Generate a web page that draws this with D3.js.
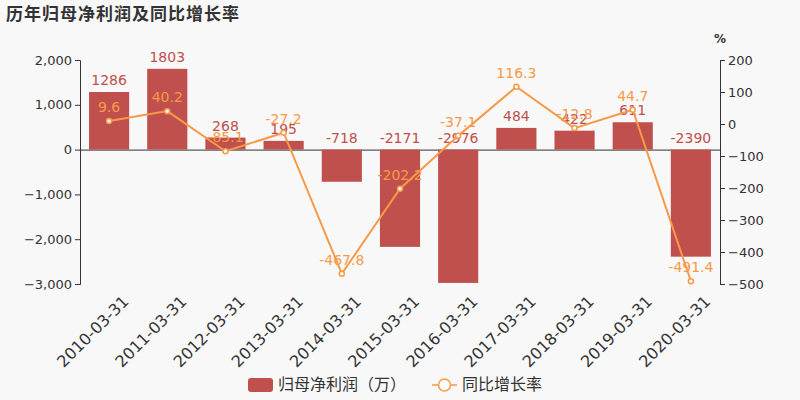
<!DOCTYPE html><html><head><meta charset="utf-8"><script src="https://d3js.org/d3.v7.min.js"></script>
<style>body{margin:0;background:#f8f8f8}text{font-family:"DejaVu Sans","Noto Sans CJK SC",sans-serif}</style></head><body><svg id="c" width="800" height="400"></svg>
<script>
const categories=["2010-03-31","2011-03-31","2012-03-31","2013-03-31","2014-03-31","2015-03-31","2016-03-31","2017-03-31","2018-03-31","2019-03-31","2020-03-31"];
const profit=[1286,1803,268,195,-718,-2171,-2976,484,422,611,-2390];
const growth=[9.6,40.2,-85.1,-27.2,-467.8,-202.2,-37.1,116.3,-12.8,44.7,-491.4];
const leftTicks=[2000,1000,0,-1000,-2000,-3000];
const rightTicks=[200,100,0,-100,-200,-300,-400,-500];
const svg=d3.select("#c");
svg.append("rect").attr("width",800).attr("height",400).attr("fill","#f8f8f8");
const L=80,R=720,T=60,B=284;
const x=d3.scaleBand().domain(categories).range([L,R]).paddingInner(0.31).paddingOuter(0.155);
const y=d3.scaleLinear().domain([-3000,2000]).range([B,T]);
const y2=d3.scaleLinear().domain([-500,200]).range([B,T]);
const red="#c0504d",org="#f79a48";
svg.append("text").attr("x",6).attr("y",20).attr("font-size",17).attr("font-weight","bold").attr("fill","#333").attr("letter-spacing",1).text("历年归母净利润及同比增长率");
const fmt=d3.format(",");
const ga=svg.append("g").attr("transform",`translate(${L},0)`).call(d3.axisLeft(y).tickValues(leftTicks).tickFormat(fmt).tickSize(5));
const gb=svg.append("g").attr("transform",`translate(${R},0)`).call(d3.axisRight(y2).tickValues(rightTicks).tickSize(5));
const gx=svg.append("g").attr("transform",`translate(0,${y(0)})`).call(d3.axisBottom(x).tickSize(0).tickFormat(""));
[ga,gb].forEach(g=>{g.select(".domain").attr("stroke","#333");g.selectAll("line").attr("stroke","#333");g.selectAll("text").attr("font-size",13).attr("fill","#333")});
gx.select(".domain").attr("stroke","#333");
svg.append("text").attr("x",720).attr("y",43).attr("text-anchor","middle").attr("font-size",12).attr("font-weight","bold").attr("fill","#333").text("%");
categories.forEach(c=>{const cx=x(c)+x.bandwidth()/2;
svg.append("text").attr("transform",`translate(${cx+12},${294}) rotate(-45)`).attr("text-anchor","end").attr("dominant-baseline","hanging").attr("font-size",16).attr("fill","#333").text(c);});
svg.selectAll(".bar").data(profit).enter().append("rect").attr("x",(d,i)=>x(categories[i])).attr("width",x.bandwidth()).attr("y",d=>y(Math.max(0,d))).attr("height",d=>Math.abs(y(d)-y(0))).attr("fill",red);
svg.selectAll(".bl").data(profit).enter().append("text").attr("x",(d,i)=>x(categories[i])+x.bandwidth()/2).attr("y",d=>d>=0?y(d)-7:y(0)-7).attr("text-anchor","middle").attr("font-size",14).attr("fill",red).text(d=>d);
const cx=i=>x(categories[i])+x.bandwidth()/2;
svg.append("path").datum(growth).attr("d",d3.line().x((d,i)=>cx(i)).y(d=>y2(d))).attr("fill","none").attr("stroke",org).attr("stroke-width",2);
svg.selectAll(".pt").data(growth).enter().append("circle").attr("cx",(d,i)=>cx(i)).attr("cy",d=>y2(d)).attr("r",2.5).attr("fill","#fff").attr("stroke",org).attr("stroke-width",1.5);
svg.selectAll(".gl").data(growth).enter().append("text").attr("x",(d,i)=>cx(i)).attr("y",d=>y2(d)-9).attr("text-anchor","middle").attr("font-size",14).attr("fill",org).text(d=>d);
const lg=svg.append("g");
lg.append("rect").attr("x",248).attr("y",378).attr("width",25).attr("height",14).attr("rx",3).attr("fill",red);
lg.append("text").attr("x",278).attr("y",390).attr("font-size",16).attr("fill","#333").text("归母净利润（万）");
lg.append("line").attr("x1",432).attr("x2",457).attr("y1",385).attr("y2",385).attr("stroke",org).attr("stroke-width",1.5);
lg.append("circle").attr("cx",444.5).attr("cy",385).attr("r",6).attr("fill","#fff").attr("stroke",org).attr("stroke-width",1.5);
lg.append("text").attr("x",462).attr("y",390).attr("font-size",16).attr("fill","#333").text("同比增长率");
</script></body></html>
